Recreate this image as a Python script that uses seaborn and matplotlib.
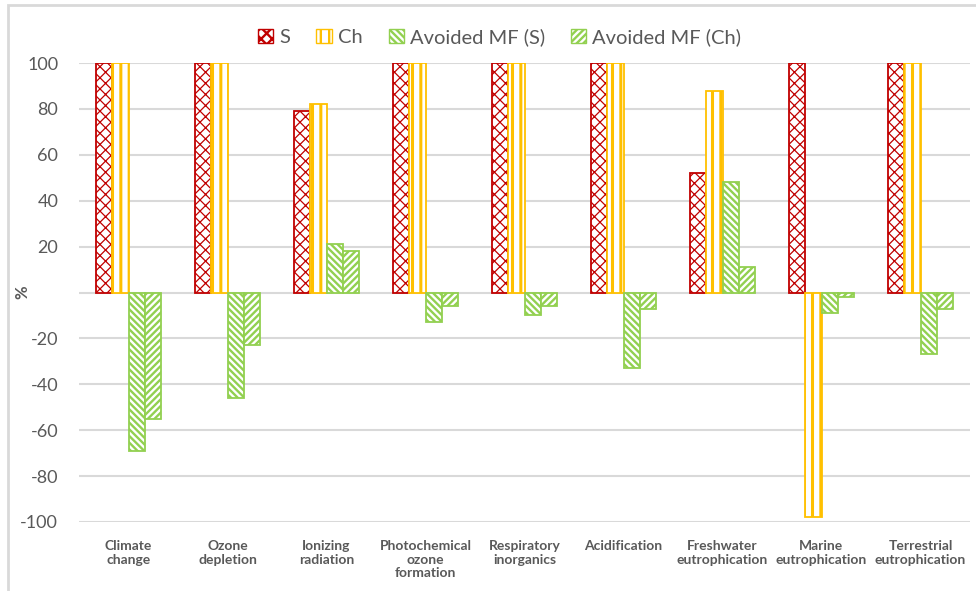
import matplotlib
matplotlib.use("Agg")
import matplotlib.pyplot as plt
import seaborn as sns
import pandas as pd
from matplotlib.patches import Rectangle, Patch

categories = ["Climate\nchange", "Ozone\ndepletion", "Ionizing\nradiation",
              "Photochemical\nozone\nformation", "Respiratory\ninorganics",
              "Acidification", "Freshwater\neutrophication",
              "Marine\neutrophication", "Terrestrial\neutrophication"]
series_names = ["S", "Ch", "Avoided MF (S)", "Avoided MF (Ch)"]
s_vals = [100, 100, 79, 100, 100, 100, 52, 100, 100]
ch_vals = [100, 100, 82, 100, 100, 100, 88, -98, 100]
av_s_vals = [-69, -46, 21, -13, -10, -33, 48, -9, -27]
av_ch_vals = [-55, -23, 18, -6, -6, -7, 11, -2, -7]
yticks = [-100, -80, -60, -40, -20, 0, 20, 40, 60, 80, 100]

rows = []
for name, vals in zip(series_names, [s_vals, ch_vals, av_s_vals, av_ch_vals]):
    for c, v in zip(categories, vals):
        rows.append({"cat": c, "series": name, "val": v})
df = pd.DataFrame(rows)

sns.set_theme(style="white")
plt.rcParams["font.family"] = ["Lato", "DejaVu Sans"]
plt.rcParams["hatch.linewidth"] = 1.7

red = "#C00000"
yel = "#FFC000"
grn = "#92D050"
txt = "#595959"

fig = plt.figure(figsize=(9.76, 5.91), dpi=100)
ax = fig.add_axes([79/976, 1-522/591, (970-79)/976, (522-63)/591])

sns.barplot(data=df, x="cat", y="val", hue="series", order=categories,
            hue_order=series_names, width=0.65, gap=0, dodge=True,
            ax=ax, legend=False, saturation=1, errorbar=None)

styles = [
    dict(face="white", edge=red, hatch="xxx", hlw=0.9),
    dict(face="white", edge=yel, hatch="||", hlw=2.2),
    dict(face="white", edge=grn, hatch="\\\\\\\\\\", hlw=1.7),
    dict(face="white", edge=grn, hatch="/////", hlw=1.7),
]

def style_patch(p, st):
    p.set_facecolor(st["face"])
    p.set_edgecolor(st["edge"])
    p.set_hatch(st["hatch"])
    p.set_linewidth(1.3)
    if hasattr(p, "set_hatch_linewidth"):
        p.set_hatch_linewidth(st["hlw"])

for cont, st in zip(ax.containers, styles):
    for p in cont:
        style_patch(p, st)

ax.set_ylim(-100, 100)
ax.set_xlim(-0.5, 8.5)
ax.set_yticks(yticks)
ax.set_yticklabels(["" if t == 0 else str(t) for t in yticks])
ax.yaxis.grid(True, color="#d9d9d9", linewidth=1.5)
ax.set_axisbelow(True)
for sp in ax.spines.values():
    sp.set_visible(False)
ax.tick_params(axis="y", length=0, pad=15, labelsize=13, labelcolor=txt)
ax.tick_params(axis="x", length=0, pad=13, labelsize=10, labelcolor=txt)
for lab in ax.get_xticklabels():
    lab.set_fontweight("bold")
    lab.set_linespacing(1.15)
ax.set_xlabel("")
ax.set_ylabel("%", fontsize=12, fontweight="bold", color=txt)
ax.yaxis.set_label_coords(-0.055, 0.5)

handles = []
for name, st in zip(series_names, styles):
    h = Patch(facecolor=st["face"], edgecolor=st["edge"], hatch=st["hatch"], label=name)
    if hasattr(h, "set_hatch_linewidth"):
        h.set_hatch_linewidth(st["hlw"])
    handles.append(h)
leg = fig.legend(handles=handles, loc="center", bbox_to_anchor=(0.512, 1-37/591),
                 ncol=4, frameon=False, fontsize=14.5, handlelength=0.75,
                 handleheight=0.75, handletextpad=0.3, columnspacing=1.3)
for t in leg.get_texts():
    t.set_color(txt)

fig.add_artist(Rectangle((8/976, -0.1), 1.2, 1 - 5/591 + 0.1, transform=fig.transFigure,
                         fill=False, edgecolor="#d9d9d9", linewidth=2))

fig.savefig("out.png", dpi=100)
